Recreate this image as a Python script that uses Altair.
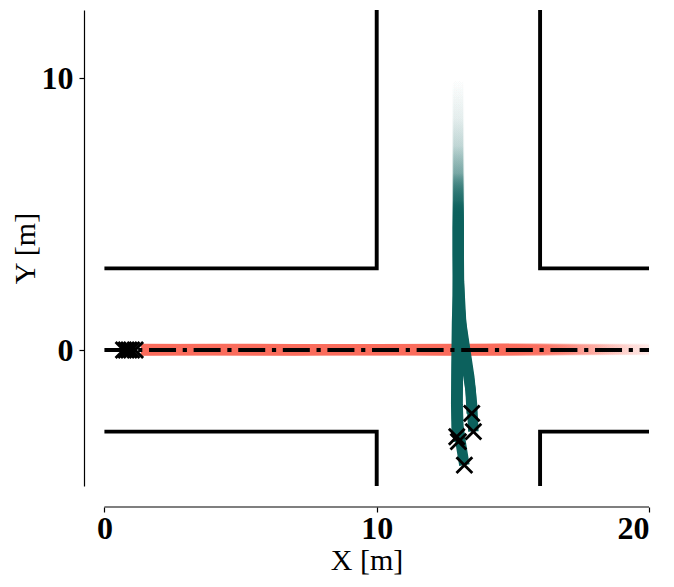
import altair as alt
import pandas as pd

FONT = "Liberation Serif"
W, H = 565, 476
X_DOMAIN = [-0.75, 20]
Y_DOMAIN = [-5, 12.5]
X_TICKS = [0, 10, 20]
Y_TICKS = [0, 10]

# road boundary polylines
road_id = ["A", "A", "A", "B", "B", "B", "C", "C", "C", "D", "D", "D"]
road_x = [0, 10, 10, 16, 16, 20, 0, 10, 10, 16, 16, 20]
road_y = [3, 3, 12.5, 12.5, 3, 3, -3, -3, -5, -5, -3, -3]

# reference path (dash-dot)
ref_x = [0, 20]
ref_y = [0, 0]

# red (horizontal) trajectories
red_x = [1.35, 4, 7, 10, 13, 16, 19, 20]
red_y = [
    [0.00, 0.02, 0.03, 0.02, 0.00, -0.02, 0.00, 0.02],
    [0.02, 0.04, 0.03, 0.01, 0.02, 0.04, 0.05, 0.04],
    [-0.02, -0.01, 0.00, 0.03, 0.04, 0.02, 0.01, 0.00],
    [0.04, 0.03, 0.01, -0.01, -0.02, 0.00, 0.03, 0.05],
    [0.01, 0.00, -0.02, 0.00, 0.03, 0.05, 0.02, -0.01],
]
red_start_x = [0.70, 0.80, 0.90, 1.00, 1.13]
red_start_y = [0, 0, 0, 0, 0]

# teal (vertical) trajectories
teal_x = [
    [13.49, 13.45, 13.30, 13.15, 13.05, 13.00, 13.00, 13.00, 13.00],
    [13.55, 13.50, 13.40, 13.25, 13.10, 13.02, 13.00, 12.98, 12.98],
    [13.00, 12.95, 12.95, 12.97, 12.98, 12.97, 12.97, 12.97, 12.97],
    [12.94, 12.92, 12.93, 12.95, 12.98, 13.00, 12.99, 12.98, 12.98],
    [13.22, 13.10, 13.00, 12.97, 12.98, 13.00, 13.00, 13.02, 13.02],
]
teal_y = [
    [-2.33, -1.5, -0.5, 0.5, 1.5, 3.0, 5.0, 7.0, 10.0],
    [-3.00, -2.0, -1.0, 0.0, 1.0, 2.5, 5.0, 7.0, 10.0],
    [-3.37, -2.5, -1.0, 0.5, 2.0, 3.5, 5.0, 7.0, 10.0],
    [-3.19, -2.0, -0.5, 1.0, 2.0, 3.0, 6.0, 8.0, 10.0],
    [-4.23, -3.5, -2.8, -2.0, -1.0, 0.5, 3.0, 6.0, 10.0],
]

TEAL_RGB = (12, 97, 93)
RED_RGB = (250, 108, 92)

xs = alt.Scale(domain=X_DOMAIN, nice=False, zero=False)
ys = alt.Scale(domain=Y_DOMAIN, nice=False, zero=False)

x_axis = alt.Axis(
    values=X_TICKS, domain=False, offset=21, tickSize=5, tickWidth=1.2,
    tickColor="black", labelFont=FONT, labelFontSize=32, labelFontWeight="bold",
    labelColor="black", labelPadding=1, title="X [m]", titleFont=FONT,
    titleFontSize=30, titleFontWeight="normal", titleColor="black",
    titlePadding=1, grid=False,
)
y_axis = alt.Axis(
    values=Y_TICKS, domain=True, domainColor="black", domainWidth=1.2,
    tickSize=5, tickWidth=1.2, tickColor="black", labelFont=FONT,
    labelFontSize=32, labelFontWeight="bold", labelColor="black",
    labelPadding=6, title="Y [m]", titleFont=FONT, titleFontSize=30,
    titleFontWeight="normal", titleColor="black", titlePadding=1, grid=False,
)


def X(field="x"):
    return alt.X(f"{field}:Q", scale=xs, axis=x_axis)


def Y(field="y"):
    return alt.Y(f"{field}:Q", scale=ys, axis=y_axis)


layers = []

# roads
road_df = pd.DataFrame({"id": road_id, "x": road_x, "y": road_y,
                        "i": list(range(len(road_x)))})
layers.append(
    alt.Chart(road_df).mark_line(color="black", strokeWidth=3.9,
                                 strokeJoin="miter", strokeCap="butt")
    .encode(x=X(), y=Y(), detail="id:N", order="i:Q")
)


def rgba(rgb, a):
    return f"rgba({rgb[0]},{rgb[1]},{rgb[2]},{a})"


# red trajectories with fade towards the right
red_fade = [(14.5, 1.0), (15.5, 0.6), (16.5, 0.35), (17.5, 0.2), (18.5, 0.11),
            (19.3, 0.06), (20, 0.03)]
for ry in red_y:
    x0, x1 = min(red_x), max(red_x)
    stops = [{"offset": 0, "color": rgba(RED_RGB, 1.0)}]
    for xv, a in red_fade:
        stops.append({"offset": (xv - x0) / (x1 - x0), "color": rgba(RED_RGB, a)})
    grad = {"gradient": "linear", "x1": 0, "y1": 0, "x2": 1, "y2": 0,
            "stops": stops}
    df = pd.DataFrame({"x": red_x, "y": ry, "i": list(range(len(red_x)))})
    layers.append(
        alt.Chart(df).mark_line(color=grad, strokeWidth=10.5, strokeCap="butt")
        .encode(x=X(), y=Y(), order="i:Q")
    )

# teal trajectories with fade towards the top
teal_fade = [(10, 0.0), (9.5, 0.008), (8.5, 0.025), (7.5, 0.06),
             (6.5, 0.15), (5.5, 0.4), (4.5, 1.0)]
for tx, ty in zip(teal_x, teal_y):
    top, bot = max(ty), min(ty)
    stops = []
    for yv, a in teal_fade:
        stops.append({"offset": (top - yv) / (top - bot), "color": rgba(TEAL_RGB, a)})
    stops.append({"offset": 1, "color": rgba(TEAL_RGB, 1.0)})
    grad = {"gradient": "linear", "x1": 0, "y1": 0, "x2": 0, "y2": 1,
            "stops": stops}
    df = pd.DataFrame({"x": tx, "y": ty, "i": list(range(len(tx)))})
    layers.append(
        alt.Chart(df).mark_line(color=grad, strokeWidth=10.5, strokeCap="butt")
        .encode(x=X(), y=Y(), order="i:Q")
    )

# reference dash-dot line
ref_df = pd.DataFrame({"x": ref_x, "y": ref_y})
layers.append(
    alt.Chart(ref_df).mark_line(color="black", strokeWidth=4.2,
                                strokeDash=[27, 6.7, 4.2, 6.7], strokeCap="butt")
    .encode(x=X(), y=Y())
)

# start markers
mk_df = pd.DataFrame({
    "x": red_start_x + [t[0] for t in teal_x],
    "y": red_start_y + [t[0] for t in teal_y],
})
layers.append(
    alt.Chart(mk_df).mark_point(shape="M-1,-1L1,1M-1,1L1,-1", filled=False,
                                color="black", strokeWidth=2.8, size=250,
                                opacity=1)
    .encode(x=X(), y=Y())
)

# x-axis spine limited to the tick range
spine_df = pd.DataFrame({"x": [min(X_TICKS)], "x2": [max(X_TICKS)]})
layers.append(
    alt.Chart(spine_df).mark_rule(color="black", strokeWidth=1.2)
    .encode(x=X(), x2="x2:Q", y=alt.value(H + 21))
)

chart = (
    alt.layer(*layers)
    .properties(
        width=W, height=H,
        padding={"left": 76, "top": 2, "right": 17, "bottom": 93},
        autosize=alt.AutoSizeParams(type="none"),
        background="white",
    )
    .configure_view(strokeWidth=0)
)

chart.save("out.html", embed_options={"renderer": "svg", "actions": False})
